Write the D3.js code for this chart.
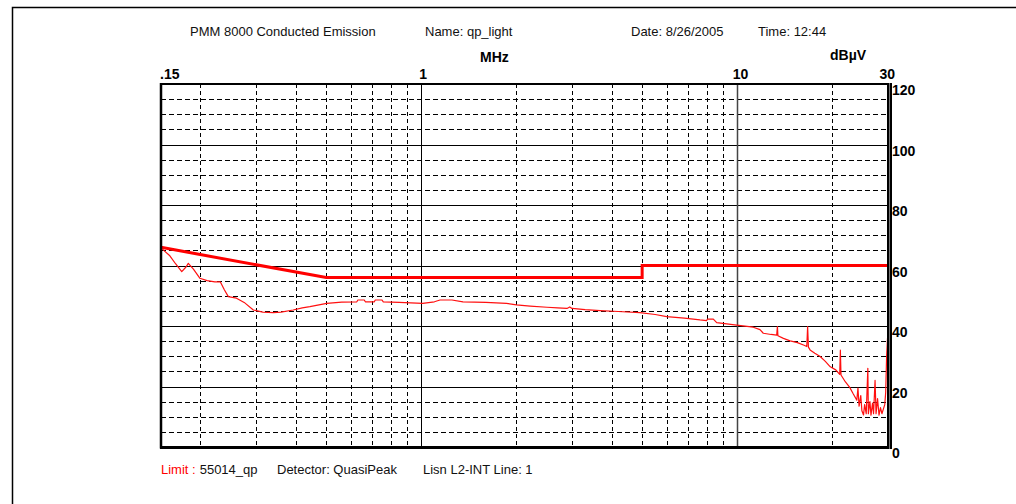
<!DOCTYPE html>
<html>
<head>
<meta charset="utf-8">
<script src="https://cdn.jsdelivr.net/npm/d3@7"></script>
<style>
  html, body { margin: 0; padding: 0; background: #fff; }
  svg { display: block; }
  text { font-family: Arial, "Liberation Sans", sans-serif; }
</style>
</head>
<body>
<svg id="chart" width="1016" height="504"></svg>
<script>
// ---------------- data ----------------
const headerTexts = ["PMM 8000 Conducted Emission", "Name: qp_light", "Date: 8/26/2005", "Time: 12:44"];
const footerLimitLabel = "Limit :";
const footerTexts = ["55014_qp", "Detector: QuasiPeak", "Lisn L2-INT  Line: 1"];
const xUnit = "MHz";
const yUnit = "dBµV";

const xTickValues = [0.15, 1, 10, 30];
const xTickLabels = [".15", "1", "10", "30"];
const xGridSolid = [1, 10];
const xGridDashed = [0.2, 0.3, 0.4, 0.5, 0.6, 0.7, 0.8, 0.9, 2, 3, 4, 5, 6, 7, 8, 9, 20];
const yTickValues = [0, 20, 40, 60, 80, 100, 120];
const yGridSolid = [20, 40, 60, 80, 100];
const yGridDashed = [5, 10, 15, 25, 30, 35, 45, 50, 55, 65, 70, 75, 85, 90, 95, 105, 110, 115];

// limit line (55014 quasi-peak)
const limitFreq = [0.15, 0.5, 5, 5, 30];
const limitDb   = [66, 56, 56, 60, 60];

// measured quasi-peak trace
const freqMHz = [0.15,0.153,0.16,0.167,0.1745,0.18,0.183,0.19,0.199,0.21,0.222,0.231,0.238,0.245,0.26,0.275,0.294,0.315,0.34,0.36,0.393,0.42,0.444,0.502,0.56,0.625,0.63,0.66,0.665,0.71,0.715,0.75,0.758,0.85,1.01,1.1,1.146,1.25,1.355,1.6,1.86,2.0,2.21,2.5,2.7,2.89,2.95,3.0,3.3,3.68,4.2,4.92,5.5,5.98,6.8,7.62,8.0,8.05,8.4,8.61,9.96,11.24,11.8,12.09,12.8,13.33,13.4,13.45,14.0,14.7,15.5,16.2,16.6,16.7,16.8,17.0,17.6,18.3,19.0,19.7,20.5,21.1,21.2,21.3,22.0,22.7,23.3,23.9,24.1,24.3,24.6,24.8,25.1,25.3,25.6,25.9,26.0,26.3,26.5,26.8,27.0,27.3,27.5,27.8,28.1,28.4,28.7,29.0,29.3,29.5,29.7,29.9];
const levelDb = [66.0,65.0,63.2,60.5,58.0,59.5,60.7,58.8,55.8,55.0,54.6,54.6,52.0,49.7,49.2,47.8,45.3,44.6,44.4,44.6,45.3,46.0,46.4,47.5,47.9,48.0,48.6,48.6,48.0,48.0,48.6,48.6,48.0,47.8,47.5,48.0,48.6,48.6,48.0,47.8,47.5,47.0,46.6,46.2,46.0,45.8,46.3,45.8,45.4,45.1,44.8,44.4,43.8,43.1,42.6,42.0,41.8,42.3,42.3,41.1,40.3,39.6,38.8,37.6,37.2,37.0,39.8,36.8,35.9,35.1,34.5,33.7,33.2,39.8,33.0,32.1,31.0,29.9,28.3,26.5,25.5,24.0,32.0,23.8,21.5,19.7,17.5,15.5,19.5,13.5,17.0,12.0,10.6,14.0,11.0,26.0,11.0,15.0,10.5,14.5,11.0,22.0,11.0,16.0,10.5,13.0,11.0,12.5,14.0,18.0,30.0,36.0];

// ---------------- drawing ----------------
const svg = d3.select("#chart");
svg.append("rect").attr("width", 1016).attr("height", 504).attr("fill", "#fff");

const plot = { left: 161, right: 888, top: 84, bottom: 447 };
const x = d3.scaleLog().domain([0.15, 30]).range([plot.left, plot.right]);
const y = d3.scaleLinear().domain([0, 120]).range([plot.bottom, plot.top]);

// outer frame
svg.append("path").attr("d", "M12.5,504 L12.5,7.5 L1016,7.5")
  .attr("fill", "none").attr("stroke", "#000").attr("stroke-width", 1.5);

// header
const headerX = [190, 425, 631, 758];
svg.selectAll("text.hdr").data(headerTexts).join("text")
  .attr("class", "hdr")
  .attr("x", (d, i) => headerX[i]).attr("y", 36)
  .attr("font-size", 13).attr("fill", "#111").text(d => d);

// grid - dashed
const grid = svg.append("g");
grid.selectAll("line.yd").data(yGridDashed).join("line")
  .attr("x1", plot.left).attr("x2", plot.right)
  .attr("y1", d => Math.round(y(d)) + 0.5).attr("y2", d => Math.round(y(d)) + 0.5)
  .attr("stroke", "#000").attr("stroke-width", 1).attr("stroke-dasharray", "5,3");
grid.selectAll("line.xd").data(xGridDashed).join("line")
  .attr("y1", plot.top).attr("y2", plot.bottom)
  .attr("x1", d => Math.round(x(d)) + 0.5).attr("x2", d => Math.round(x(d)) + 0.5)
  .attr("stroke", "#000").attr("stroke-width", 1).attr("stroke-dasharray", "4,3");
// grid - solid
grid.selectAll("line.ys").data(yGridSolid).join("line")
  .attr("x1", plot.left).attr("x2", plot.right)
  .attr("y1", d => Math.round(y(d)) + 0.5).attr("y2", d => Math.round(y(d)) + 0.5)
  .attr("stroke", "#000").attr("stroke-width", 1);
grid.selectAll("line.xs").data(xGridSolid).join("line")
  .attr("y1", plot.top).attr("y2", plot.bottom)
  .attr("x1", d => Math.round(x(d)) + 0.5).attr("x2", d => Math.round(x(d)) + 0.5)
  .attr("stroke", (d, i) => i === 0 ? "#000" : "#444").attr("stroke-width", (d, i) => i === 0 ? 1 : 1.5);

// limit line
const line = d3.line().x(d => x(d[0])).y(d => y(d[1]));
svg.append("path")
  .datum(limitFreq.map((f, i) => [f, limitDb[i]]))
  .attr("d", line).attr("fill", "none").attr("stroke", "#ff0000").attr("stroke-width", 3);

// measured trace
svg.append("path")
  .datum(freqMHz.map((f, i) => [f, levelDb[i]]))
  .attr("d", line).attr("fill", "none").attr("stroke", "#ff1010").attr("stroke-width", 1.2)
  .attr("stroke-linejoin", "round");

// plot border
svg.append("line").attr("x1", plot.left).attr("x2", plot.left).attr("y1", plot.top - 1).attr("y2", plot.bottom + 1.5)
  .attr("stroke", "#000").attr("stroke-width", 2.5);
svg.append("line").attr("x1", plot.left - 1).attr("x2", plot.right + 4).attr("y1", plot.top).attr("y2", plot.top)
  .attr("stroke", "#000").attr("stroke-width", 2);
svg.append("line").attr("x1", plot.left - 1).attr("x2", plot.right + 4).attr("y1", plot.bottom + 0.5).attr("y2", plot.bottom + 0.5)
  .attr("stroke", "#000").attr("stroke-width", 3);
svg.append("rect").attr("x", plot.right - 1).attr("y", plot.top - 1).attr("width", 5).attr("height", plot.bottom - plot.top + 3)
  .attr("fill", "#777");
svg.append("line").attr("x1", plot.right).attr("x2", plot.right).attr("y1", plot.top - 1).attr("y2", plot.bottom + 2)
  .attr("stroke", "#000").attr("stroke-width", 2);
svg.append("line").attr("x1", plot.right + 3).attr("x2", plot.right + 3).attr("y1", plot.top - 1).attr("y2", plot.bottom + 2)
  .attr("stroke", "#000").attr("stroke-width", 2);

// x axis (top) labels
const xLabelShift = v => v === 0.15 ? -1.5 : v === 1 ? -2.5 : v === 10 ? -5 : -9;
const xAxis = d3.axisTop(x).tickValues(xTickValues).tickSize(0)
  .tickFormat((d, i) => xTickLabels[i]);
const gx = svg.append("g").attr("transform", `translate(0,${plot.top - 5})`).call(xAxis);
gx.select(".domain").remove();
gx.selectAll("text").attr("text-anchor", "start").attr("dx", d => xLabelShift(d)).attr("dy", 0)
  .attr("y", 0).attr("font-size", 14).attr("font-weight", "bold").attr("fill", "#000")
  .attr("font-family", "Arial, 'Liberation Sans', sans-serif");

svg.append("text").attr("x", 480).attr("y", 62).attr("font-size", 14).attr("font-weight", "bold").text(xUnit);
svg.append("text").attr("x", 830).attr("y", 60).attr("font-size", 14).attr("font-weight", "bold").text(yUnit);

// y axis (right) labels
const yAxis = d3.axisRight(y).tickValues(yTickValues).tickSize(0).tickFormat(d3.format("d"));
const gy = svg.append("g").attr("transform", `translate(${plot.right + 4},0)`).call(yAxis);
gy.select(".domain").remove();
gy.selectAll("text").attr("x", 0).attr("dy", "0.78em").attr("y", 0).attr("text-anchor", "start")
  .attr("font-size", 14).attr("font-weight", "bold").attr("fill", "#000")
  .attr("font-family", "Arial, 'Liberation Sans', sans-serif");

// footer
const foot = svg.append("text").attr("x", 161).attr("y", 474).attr("font-size", 13);
foot.append("tspan").attr("fill", "#ff0000").text(footerLimitLabel);
foot.append("tspan").attr("fill", "#111").attr("dx", 4).text(footerTexts[0]);
svg.append("text").attr("x", 277).attr("y", 474).attr("font-size", 13).attr("fill", "#111").text(footerTexts[1]);
svg.append("text").attr("x", 423).attr("y", 474).attr("font-size", 13).attr("fill", "#111").text(footerTexts[2]);
</script>
</body>
</html>
